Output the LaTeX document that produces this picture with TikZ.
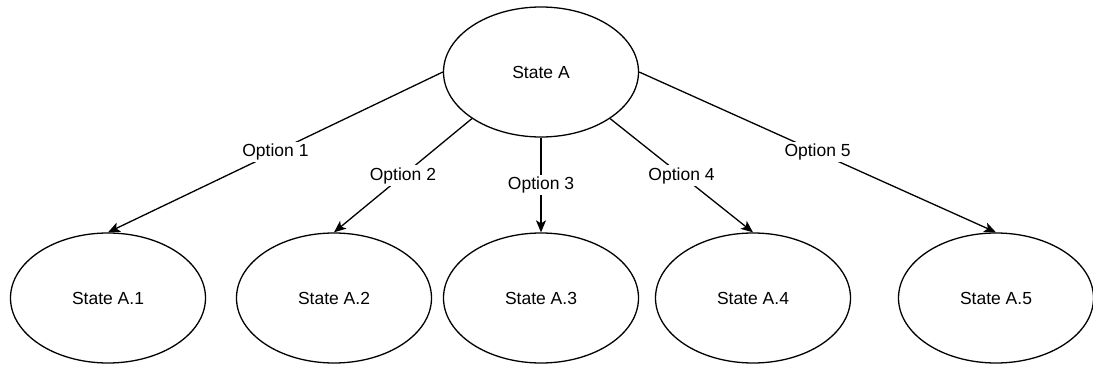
\documentclass[tikz,border=0pt]{standalone}
\usepackage{fontspec}
\setmainfont{Liberation Sans}
\usetikzlibrary{shapes.geometric,arrows.meta}

\begin{document}
\begin{tikzpicture}[x=1pt,y=-1pt]
\tikzstyle{state}=[ellipse,draw,line width=1.3pt,minimum width=195pt,minimum height=130pt,inner sep=0pt,font=\fontsize{17.5}{20}\selectfont]
\tikzstyle{option}=[fill=white,inner sep=2pt,font=\fontsize{17.5}{20}\selectfont]
\tikzstyle{trans}=[line width=1.3pt,-{Stealth[length=12pt,width=10pt,inset=3pt]}]
\useasboundingbox (0,0) rectangle (1093,366);

\node[state] (A) at (541,72) {State A};
\node[state] (A1) at (108,298) {State A.1};
\node[state] (A2) at (334,298) {State A.2};
\node[state] (A3) at (541,298) {State A.3};
\node[state] (A4) at (753,298) {State A.4};
\node[state] (A5) at (996,298) {State A.5};

\draw[trans] (A.180) -- node[option] {Option 1} (A1.north);
\draw[trans] (A.214) -- node[option] {Option 2} (A2.north);
\draw[trans] (A.south) -- node[option] {Option 3} (A3.north);
\draw[trans] (A.326) -- node[option] {Option 4} (A4.north);
\draw[trans] (A.0) -- node[option] {Option 5} (A5.north);
\end{tikzpicture}
\end{document}
